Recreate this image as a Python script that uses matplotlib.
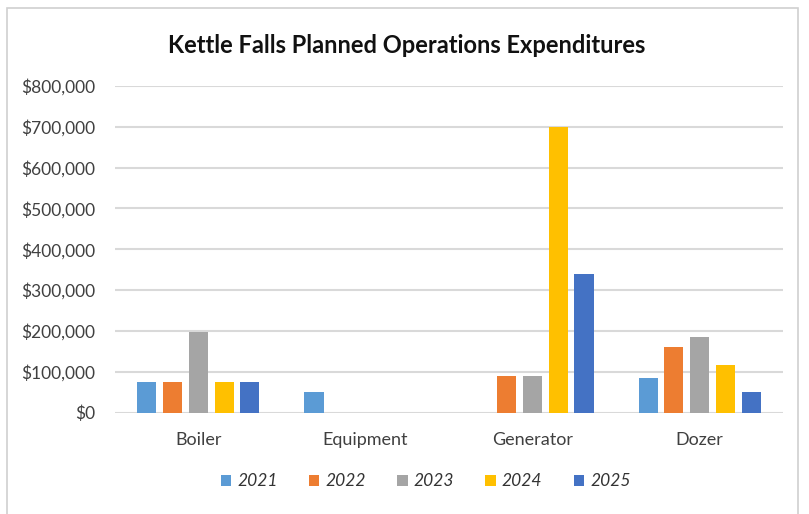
import matplotlib.pyplot as plt
import numpy as np
from matplotlib.patches import Rectangle
from matplotlib.ticker import FuncFormatter

plt.rcParams['font.family'] = ['Lato', 'DejaVu Sans']

categories = ['Boiler', 'Equipment', 'Generator', 'Dozer']
years = ['2021', '2022', '2023', '2024', '2025']
spend = {
    '2021': [75000, 50000, 0, 85000],
    '2022': [75000, 0, 90000, 160000],
    '2023': [197000, 0, 90000, 186000],
    '2024': [75000, 0, 700000, 117000],
    '2025': [75000, 0, 340000, 50000],
}
colors = ['#5B9BD5', '#ED7D31', '#A5A5A5', '#FFC000', '#4472C4']

fig = plt.figure(figsize=(8.09, 5.14), dpi=100)
ax = fig.add_axes([0.142, 0.197, 0.826, 0.636])

# outer chart frame
fig.patches.append(Rectangle((0.009, -0.05), 0.978, 1.035, transform=fig.transFigure,
                             fill=False, edgecolor='#D0D0D0', linewidth=1.2))

pos = np.arange(len(categories))
step = 0.154
width = 0.114
for i, yr in enumerate(years):
    ax.bar(pos + (i - 2) * step, spend[yr], width=width, color=colors[i],
           linewidth=0, label=yr, zorder=3)

ax.set_xlim(-0.5, len(categories) - 0.5)
ax.set_ylim(0, 800000)
ax.set_yticks(np.arange(0, 800001, 100000))
ax.yaxis.set_major_formatter(FuncFormatter(lambda v, p: '${:,.0f}'.format(v)))
ax.set_xticks(pos)
ax.set_xticklabels(categories)
ax.grid(axis='y', color='#D9D9D9', linewidth=1.5, zorder=0)
for s in ax.spines.values():
    s.set_visible(False)
ax.tick_params(axis='both', length=0, colors='#404040')
ax.tick_params(axis='y', pad=14, labelsize=12.5)
ax.tick_params(axis='x', pad=14, labelsize=13)

fig.text(0.503, 0.912, 'Kettle Falls Planned Operations Expenditures', ha='center', va='center',
         fontsize=17, fontweight='bold', color='#111111')

leg = ax.legend(loc='center', bbox_to_anchor=(0.465, -0.21), ncol=5, frameon=False,
                handlelength=0.6, handleheight=0.6, handletextpad=0.35, columnspacing=1.8,
                prop={'size': 12.5, 'style': 'italic'})
for t in leg.get_texts():
    t.set_color('#333333')

fig.savefig('out.png', dpi=100)
